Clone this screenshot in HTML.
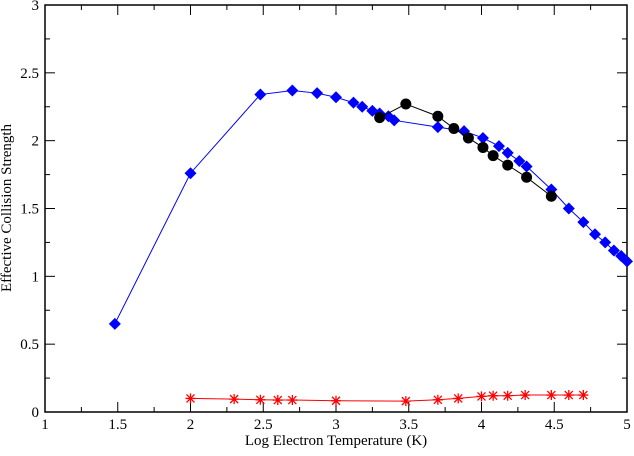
<!DOCTYPE html>
<html><head><meta charset="utf-8"><style>
body{margin:0;background:#fff}
svg text{font-family:"Liberation Serif",serif;font-size:15px;fill:#000}
</style></head><body>
<svg id="chart" width="634" height="451" xmlns="http://www.w3.org/2000/svg"></svg>
<script>
const xTicks=[1,1.5,2,2.5,3,3.5,4,4.5,5];
const yTicks=[0,0.5,1,1.5,2,2.5,3];
const blueX=[1.48,2.0,2.48,2.7,2.87,3.0,3.12,3.18,3.25,3.30,3.36,3.40,3.70,3.88,4.01,4.12,4.18,4.26,4.31,4.48,4.60,4.70,4.78,4.85,4.91,4.96,5.0];
const blueY=[0.65,1.76,2.34,2.37,2.35,2.32,2.28,2.25,2.22,2.20,2.18,2.15,2.10,2.07,2.02,1.96,1.91,1.85,1.81,1.64,1.50,1.40,1.31,1.25,1.19,1.15,1.11];
const blackX=[3.30,3.48,3.70,3.81,3.91,4.01,4.08,4.18,4.31,4.48];
const blackY=[2.17,2.27,2.18,2.09,2.02,1.95,1.89,1.82,1.73,1.59];
const redX=[2.0,2.3,2.48,2.6,2.7,3.0,3.48,3.7,3.84,4.0,4.08,4.18,4.3,4.48,4.6,4.7];
const redY=[0.10,0.095,0.09,0.088,0.088,0.083,0.08,0.09,0.10,0.115,0.12,0.12,0.125,0.125,0.125,0.125];
const L=45,R=627,T=5,B=412;
const sx=v=>L+(v-1)/4*(R-L), sy=v=>B-v/3*(B-T);
const svg=document.getElementById('chart');const NS='http://www.w3.org/2000/svg';
function mk(t,a,p){const e=document.createElementNS(NS,t);for(const k in a)e.setAttribute(k,a[k]);(p||svg).appendChild(e);return e;}
const frame=mk('rect',{x:L,y:T,width:R-L,height:B-T,fill:'none',stroke:'#000','stroke-width':1.5});


for(let i=0;i<=16;i++){const v=1+i*0.25,x=sx(v),len=i%2?5:10;
 mk('line',{x1:x,y1:B,x2:x,y2:B-len,stroke:'#000'});mk('line',{x1:x,y1:T,x2:x,y2:T+len,stroke:'#000'});}
for(let i=0;i<=12;i++){const v=i*0.25,y=sy(v),len=i%2?5:10;
 mk('line',{x1:L,y1:y,x2:L+len,y2:y,stroke:'#000'});mk('line',{x1:R,y1:y,x2:R-len,y2:y,stroke:'#000'});}
xTicks.forEach(v=>{const t=mk('text',{x:sx(v),y:B+17,'text-anchor':'middle'});t.textContent=String(v);

});
yTicks.forEach(v=>{const t=mk('text',{x:L-6,y:sy(v)+5,'text-anchor':'end'});t.textContent=String(v);

});
const xt=mk('text',{x:336,y:445,'text-anchor':'middle'});xt.textContent='Log Electron Temperature (K)';


const yt=mk('text',{x:0,y:0,'text-anchor':'middle',transform:'translate(11,208) rotate(-90)'});yt.textContent='Effective Collision Strength';


function series(xs,ys,color,name,marker){
 const g=mk('g',{});
 
 
 mk('polyline',{points:xs.map((x,i)=>sx(x)+','+sy(ys[i])).join(' '),fill:'none',stroke:color,'stroke-width':1},g);
 xs.forEach((x,i)=>{const cx=sx(x),cy=sy(ys[i]);let m;
  if(marker==='d')m=mk('polygon',{points:`${cx},${cy-6} ${cx+6},${cy} ${cx},${cy+6} ${cx-6},${cy}`,fill:color},g);
  else if(marker==='c')m=mk('circle',{cx:cx,cy:cy,r:5.5,fill:color},g);
  else{m=mk('path',{d:`M${cx-5},${cy}H${cx+5}M${cx},${cy-5}V${cy+5}M${cx-4},${cy-4}L${cx+4},${cy+4}M${cx-4},${cy+4}L${cx+4},${cy-4}`,stroke:color,'stroke-width':1.3},g);}
  
  });
}
series(blueX,blueY,'#0000ff','blue-series','d');
series(blackX,blackY,'#000','black-series','c');
series(redX,redY,'#ff0000','red-series','s');
</script>
</body></html>
